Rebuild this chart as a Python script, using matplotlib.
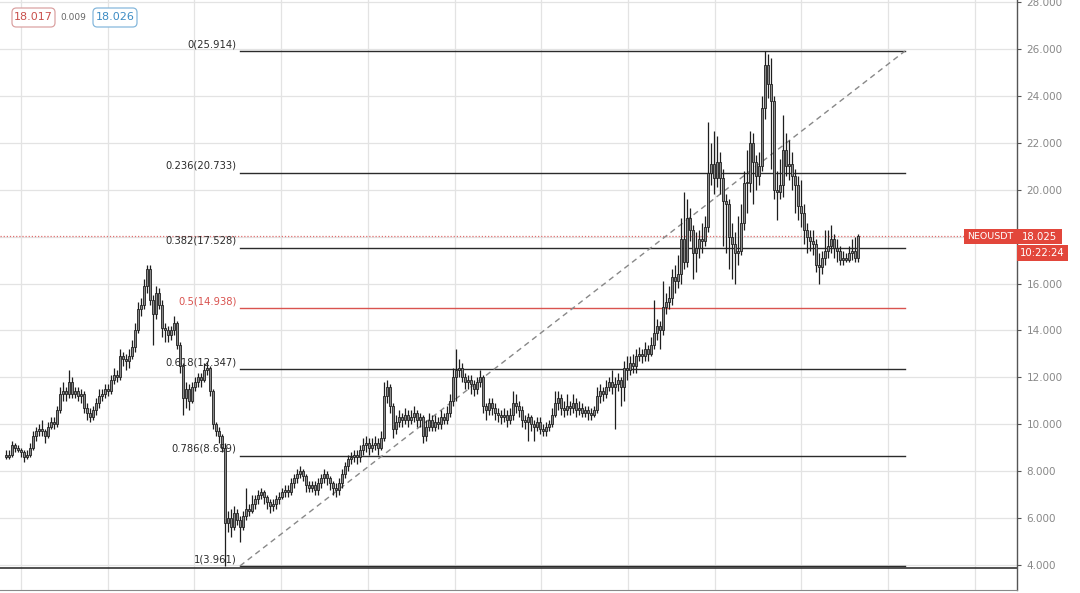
import matplotlib
matplotlib.use("Agg")
import matplotlib.pyplot as plt
from matplotlib.patches import Rectangle, FancyBboxPatch
import numpy as np

# ---- data (daily NEOUSDT candles) ----
closes = [
    8.6, 8.7, 9.1, 9.0, 8.9, 8.8, 8.6, 8.7, 9.0, 9.5,
    9.7, 9.8, 9.7, 9.5, 9.9, 10.1, 10.0, 10.6, 11.3, 11.4,
    11.3, 11.8, 11.3, 11.4, 11.2, 11.3, 10.7, 10.5, 10.3, 10.6,
    10.9, 11.2, 11.3, 11.5, 11.4, 11.9, 12.1, 12.0, 12.9, 12.8,
    12.7, 12.9, 13.3, 14.0, 14.9, 15.1, 15.9, 16.6, 15.3, 14.7,
    15.6, 15.1, 14.1, 14.0, 13.8, 14.0, 14.3, 13.4, 12.5, 11.1,
    11.5, 11.0, 11.6, 11.8, 12.0, 11.9, 12.3, 12.4, 11.4, 10.0,
    9.7, 9.5, 9.0, 5.8, 6.0, 5.6, 6.2, 5.9, 5.6, 6.1,
    6.4, 6.3, 6.6, 6.8, 7.0, 7.1, 6.9, 6.7, 6.5, 6.6,
    6.8, 6.9, 7.1, 7.2, 7.1, 7.5, 7.7, 7.9, 8.0, 7.8,
    7.4, 7.3, 7.4, 7.2, 7.5, 7.7, 7.9, 7.7, 7.5, 7.3,
    7.2, 7.5, 7.9, 8.2, 8.5, 8.6, 8.7, 8.6, 8.9, 9.1,
    9.2, 9.0, 9.1, 9.2, 9.0, 9.4, 11.2, 11.6, 10.8, 9.8,
    10.1, 10.3, 10.2, 10.4, 10.2, 10.3, 10.5, 10.2, 10.3, 9.5,
    9.9, 10.2, 9.9, 10.1, 10.0, 10.3, 10.2, 10.5, 11.0, 12.0,
    12.3, 12.4, 12.0, 11.8, 11.9, 11.7, 11.5, 11.8, 12.0, 10.8,
    10.6, 10.9, 10.7, 10.5, 10.4, 10.3, 10.4, 10.2, 10.4, 10.9,
    10.8, 10.6, 10.2, 10.1, 10.3, 10.0, 9.9, 10.1, 9.8, 9.7,
    9.9, 10.0, 10.4, 10.9, 11.1, 10.7, 10.6, 10.8, 10.7, 10.9,
    10.6, 10.7, 10.5, 10.6, 10.5, 10.4, 10.6, 11.2, 11.4, 11.3,
    11.6, 11.8, 11.6, 11.7, 11.9, 11.6, 12.4, 12.3, 12.6, 12.5,
    12.9, 13.0, 12.9, 13.2, 13.0, 13.4, 13.9, 14.2, 14.0, 15.0,
    15.2, 15.4, 16.3, 16.1, 16.4, 17.9, 16.9, 18.8, 18.3, 17.3,
    17.5, 17.9, 17.8, 18.4, 20.7, 21.1, 20.5, 21.2, 20.5, 19.5,
    19.4, 18.0, 17.7, 17.3, 17.4, 18.6, 20.3, 20.3, 22.0, 21.2,
    20.6, 21.0, 23.5, 25.3, 24.5, 23.8, 20.0, 19.9, 20.2, 21.7,
    21.0, 21.1, 20.6, 20.2, 19.3, 19.0, 18.3, 18.0, 17.8, 17.7,
    16.8, 16.7, 17.1, 17.4, 17.6, 17.9, 17.5, 17.4, 17.0, 17.1,
    17.0, 17.3, 17.4, 17.1, 18.025,
]
first_open = 8.7
highs = [
    8.9, 8.9, 9.3, 9.2, 9.1, 9.0, 8.9, 8.9, 9.2, 9.7,
    9.9, 10.0, 10.2, 9.8, 10.1, 10.3, 10.3, 10.8, 11.6, 11.8,
    11.6, 12.3, 12.0, 11.6, 11.6, 11.5, 11.4, 10.9, 10.7, 10.8,
    11.1, 11.5, 11.5, 11.7, 11.7, 12.1, 12.4, 12.3, 13.2, 13.1,
    13.0, 13.2, 13.6, 14.3, 15.2, 15.4, 16.2, 16.8, 16.8, 15.5,
    15.9, 15.8, 15.3, 14.3, 14.2, 14.2, 14.6, 14.4, 13.5, 12.6,
    11.8, 11.7, 11.8, 12.0, 12.2, 12.2, 12.6, 12.7, 12.5, 11.5,
    10.1, 9.9, 9.6, 9.2, 6.3, 6.4, 6.5, 6.4, 6.1, 6.3,
    7.3, 6.6, 7.0, 7.0, 7.2, 7.3, 7.2, 7.0, 6.8, 6.8,
    7.0, 7.1, 7.3, 7.4, 7.4, 7.7, 7.9, 8.1, 8.2, 8.1,
    7.9, 7.6, 7.6, 7.6, 7.7, 7.9, 8.1, 8.0, 7.8, 7.6,
    7.5, 7.7, 8.1, 8.4, 8.7, 8.8, 8.9, 8.9, 9.1, 9.4,
    9.5, 9.4, 9.4, 9.5, 9.4, 9.7, 11.8, 11.9, 11.7, 10.9,
    10.4, 10.6, 10.5, 10.7, 10.6, 10.6, 10.8, 10.6, 10.5, 10.4,
    10.2, 10.5, 10.4, 10.4, 10.3, 10.6, 10.5, 10.8, 11.3, 12.4,
    13.2, 12.8, 12.6, 12.2, 12.1, 12.1, 11.9, 12.0, 12.3, 12.1,
    10.9, 11.1, 11.1, 10.9, 10.7, 10.6, 10.7, 10.6, 10.7, 11.4,
    11.3, 11.0, 10.8, 10.4, 10.5, 10.4, 10.2, 10.3, 10.3, 10.0,
    10.1, 10.2, 10.7, 11.4, 11.4, 11.3, 11.0, 11.3, 11.0, 11.3,
    11.1, 11.0, 10.9, 10.8, 10.8, 10.7, 10.8, 11.6, 11.7, 11.6,
    11.9, 12.0, 12.3, 12.0, 12.2, 12.0, 12.7, 12.9, 12.9, 13.0,
    13.2, 13.3, 13.2, 13.5, 13.4, 13.7, 15.3, 14.5, 14.4, 16.1,
    15.6, 15.9, 16.6, 16.8, 17.2, 18.8, 19.9, 19.6, 19.2, 18.5,
    18.2, 18.3, 18.6, 18.9, 22.9, 22.0, 22.5, 22.3, 21.6, 20.9,
    19.8, 19.6, 18.6, 18.2, 18.9, 19.4, 20.8, 21.7, 22.5, 22.4,
    21.5, 21.6, 24.0, 25.9, 25.8, 25.6, 24.0, 20.8, 21.3, 23.2,
    22.4, 22.1, 21.6, 20.9, 20.6, 20.4, 19.4, 18.6, 18.3, 18.3,
    17.9, 17.3, 17.4, 18.3, 18.3, 18.5, 18.1, 17.9, 17.6, 17.4,
    17.3, 17.6, 17.9, 18.0, 18.1,
]
lows = [
    8.5, 8.5, 8.6, 8.8, 8.8, 8.6, 8.4, 8.5, 8.6, 8.9,
    9.3, 9.5, 9.5, 9.2, 9.4, 9.8, 9.8, 9.9, 10.5, 11.0,
    11.0, 11.1, 11.1, 11.1, 11.0, 10.9, 10.5, 10.2, 10.1, 10.2,
    10.4, 10.7, 11.0, 11.1, 11.2, 11.3, 11.7, 11.8, 11.9, 12.5,
    12.3, 12.4, 12.8, 13.1, 13.9, 14.6, 14.9, 15.6, 15.1, 13.4,
    14.5, 14.9, 13.7, 13.5, 13.5, 13.6, 13.8, 13.2, 12.2, 10.4,
    10.7, 10.6, 10.9, 11.4, 11.6, 11.6, 11.8, 12.1, 11.2, 9.8,
    9.5, 9.2, 8.8, 3.961, 5.4, 5.2, 5.5, 5.7, 5.0, 5.5,
    5.9, 6.1, 6.2, 6.4, 6.6, 6.8, 6.6, 6.4, 6.2, 6.3,
    6.4, 6.6, 6.8, 6.9, 6.9, 7.0, 7.3, 7.5, 7.7, 7.6,
    7.1, 7.1, 7.1, 7.0, 7.0, 7.3, 7.5, 7.4, 7.2, 7.0,
    6.9, 7.0, 7.3, 7.7, 8.0, 8.3, 8.4, 8.3, 8.4, 8.7,
    8.8, 8.7, 8.8, 8.9, 8.7, 8.9, 9.3, 10.9, 10.5, 9.4,
    9.6, 9.9, 9.9, 10.0, 9.9, 10.0, 10.1, 9.9, 9.9, 9.2,
    9.3, 9.7, 9.7, 9.7, 9.8, 9.8, 10.0, 10.0, 10.3, 10.8,
    11.0, 12.0, 11.8, 11.5, 11.5, 11.3, 11.2, 11.3, 11.6, 10.5,
    10.2, 10.4, 10.4, 10.2, 10.1, 10.0, 10.1, 9.9, 10.0, 10.2,
    10.5, 10.3, 9.9, 9.8, 9.3, 9.7, 9.3, 9.7, 9.6, 9.5,
    9.5, 9.7, 9.9, 10.3, 10.6, 10.4, 10.3, 10.4, 10.4, 10.5,
    10.3, 10.4, 10.3, 10.3, 10.2, 10.2, 10.3, 10.5, 10.9, 11.0,
    11.1, 11.4, 11.3, 9.8, 11.4, 10.8, 11.0, 11.9, 12.1, 12.2,
    12.2, 12.7, 12.6, 12.7, 12.7, 12.9, 13.2, 13.6, 13.2, 13.8,
    14.7, 14.9, 15.1, 15.6, 15.8, 16.0, 16.6, 16.7, 17.8, 16.2,
    16.5, 17.1, 17.3, 17.6, 18.2, 20.2, 19.8, 20.1, 19.8, 17.6,
    17.3, 16.6, 16.2, 16.0, 16.8, 17.2, 18.3, 19.0, 19.9, 19.4,
    20.0, 20.2, 20.8, 23.0, 23.9, 20.9, 19.6, 18.7, 19.6, 19.7,
    20.6, 20.4, 20.0, 19.0, 18.7, 18.4, 17.7, 17.3, 17.4, 17.2,
    16.5, 16.0, 16.4, 16.8, 17.1, 17.3, 17.1, 16.9, 16.8, 16.8,
    16.9, 16.9, 17.0, 16.9, 16.9,
]

fib_ratios = [0, 0.236, 0.382, 0.5, 0.618, 0.786, 1]
fib_high = 25.914
fib_low = 3.961
last_price = 18.025
bid_price = "18.017"
spread = "0.009"
ask_price = "18.026"
symbol = "NEOUSDT"
countdown = "10:22:24"
y_ticks = [4, 6, 8, 10, 12, 14, 16, 18, 20, 22, 24, 26, 28]

# ---- figure ----
W, H = 1080, 593
fig = plt.figure(figsize=(W / 100, H / 100), dpi=100)
fig.patch.set_facecolor("white")
ax_right_px = 1017
ax_bottom_px = 590
ax = fig.add_axes([0, (H - ax_bottom_px) / H, ax_right_px / W, ax_bottom_px / H])
ax.set_facecolor("white")

# pixel mapping: candle i at x = 6 + 3 i ; price 4 at y=565, 26 at y=49
px_per_unit = (565 - 49) / 22.0
ymin = 4 - (ax_bottom_px - 565) / px_per_unit
ymax = ymin + ax_bottom_px / px_per_unit
xmin = (0 - 6) / 3.0
xmax = (ax_right_px - 6) / 3.0
ax.set_xlim(xmin, xmax)
ax.set_ylim(ymin, ymax)

# grid
for k in range(12):
    gx = (21 + 86.7 * k - 6) / 3.0
    ax.axvline(gx, color="#e3e3e3", lw=0.9, zorder=0)
for t in y_ticks:
    ax.axhline(t, color="#e3e3e3", lw=0.9, zorder=0)

# candles
n = len(closes)
x = np.arange(n)
opens = [first_open] + closes[:-1]
o = np.array(opens)
c = np.array(closes)
h = np.array(highs)
l = np.array(lows)
ax.vlines(x, l, h, color="#1e1e1e", lw=0.9, zorder=3)
body_lo = np.minimum(o, c)
body_h = np.maximum(np.abs(c - o), 0.04)
ax.bar(x, body_h, bottom=body_lo, width=0.8, color="#8a8a8a",
       edgecolor="#1e1e1e", linewidth=0.6, zorder=4)

# fib retracement
fx0 = (240 - 6) / 3.0
fx1 = (905 - 6) / 3.0
rng = fib_high - fib_low
for r in fib_ratios:
    lvl = fib_high - r * rng
    col = "#d9534f" if r == 0.5 else "#2b2b2b"
    ax.plot([fx0, fx1], [lvl, lvl], color=col, lw=1.0, zorder=2)
    lab = f"{r:g}({lvl:.3f})"
    ax.text(fx0 - 1.2, lvl + 0.08, lab, ha="right", va="bottom",
            fontsize=7.2, color=col, family="DejaVu Sans", zorder=6)
# trend line
ax.plot([fx0, fx1], [fib_low, fib_high], color="#888888", lw=1.0,
        ls=(0, (4, 3)), zorder=2)
# horizontal full-width line at the low
ax.axhline(fib_low - 0.07, color="#333333", lw=1.2, zorder=2)

# last price dotted line
ax.axhline(last_price, color="#e07070", lw=0.9, ls=(0, (1, 1.5)), zorder=1)

# axes style
for s in ["left", "top"]:
    ax.spines[s].set_visible(False)
ax.spines["right"].set_color("#555555")
ax.spines["right"].set_linewidth(1.0)
ax.spines["bottom"].set_color("#888888")
ax.yaxis.tick_right()
ax.set_yticks(y_ticks)
# the 18.000 label is hidden behind the last-price marker in the reference
ax.set_yticklabels(["" if t == 18 else f"{t:.3f}" for t in y_ticks])
ax.tick_params(axis="y", colors="#555555", labelcolor="#888888",
               labelsize=7.5, length=3, pad=4)
ax.set_xticks([])

# price labels on the axis (boxes drawn as pixel rectangles)
red = "#e2463b"


def box_px(x0, y0, x1, y1, fc, ec, lw=0.0, rounded=False):
    fx0_, fy0_ = x0 / W, 1 - y1 / H
    wdt, hgt = (x1 - x0) / W, (y1 - y0) / H
    if rounded:
        p = FancyBboxPatch((fx0_, fy0_), wdt, hgt,
                           boxstyle="round,pad=0,rounding_size=0.004",
                           transform=fig.transFigure, fc=fc, ec=ec, lw=lw,
                           mutation_aspect=W / H)
    else:
        p = Rectangle((fx0_, fy0_), wdt, hgt, transform=fig.transFigure,
                      fc=fc, ec=ec, lw=lw)
    fig.patches.append(p)


def text_px(xc, yc, s, **kw):
    fig.text(xc / W, 1 - yc / H, s, ha="center", va="center", **kw)


box_px(964, 229, 1017, 244, red, red)
text_px(990.5, 236.5, symbol, fontsize=6.8, color="white")
box_px(1017, 229, 1062, 244, red, red)
text_px(1039.5, 236.5, f"{last_price:.3f}", fontsize=7.3, color="white")
box_px(1017, 245, 1068, 261, red, red)
text_px(1042.5, 253, countdown, fontsize=7.3, color="white")

# bid / ask boxes top-left
box_px(12, 8, 55, 27, "white", "#dba3a3", lw=0.9, rounded=True)
text_px(33.5, 17.5, bid_price, fontsize=8, color="#c9504c")
text_px(73, 17.5, spread, fontsize=6.5, color="#666666")
box_px(93, 8, 137, 27, "white", "#86b8dc", lw=0.9, rounded=True)
text_px(115, 17.5, ask_price, fontsize=8, color="#3d8cc4")

fig.savefig("out.png", dpi=100, facecolor="white")
